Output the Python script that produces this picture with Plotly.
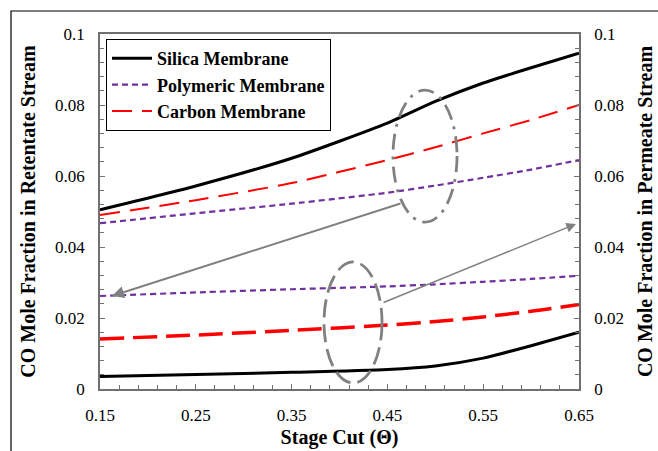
import plotly.graph_objects as go

# Stage cut values
theta = [0.15, 0.25, 0.35, 0.45, 0.50, 0.55, 0.60, 0.65]

# Retentate stream (left axis)
silica_ret = [0.0505, 0.0572, 0.0650, 0.0749, 0.0810, 0.0862, 0.0905, 0.0946]
polymeric_ret = [0.0467, 0.0495, 0.0522, 0.0553, 0.0573, 0.0595, 0.0618, 0.0645]
carbon_ret = [0.0490, 0.0532, 0.0580, 0.0645, 0.0681, 0.0720, 0.0758, 0.0800]

# Permeate stream (right axis)
silica_perm = [0.0035, 0.0041, 0.0047, 0.0055, 0.0065, 0.0087, 0.0122, 0.0160]
polymeric_perm = [0.0262, 0.0272, 0.0281, 0.0289, 0.0295, 0.0302, 0.0310, 0.0319]
carbon_perm = [0.0141, 0.0152, 0.0165, 0.0180, 0.0190, 0.0203, 0.0219, 0.0238]

x_ticks = [0.15, 0.25, 0.35, 0.45, 0.55, 0.65]
x_ticktext = ["0.15", "0.25", "0.35", "0.45", "0.55", "0.65"]
y_ticks = [0, 0.02, 0.04, 0.06, 0.08, 0.1]
y_ticktext = ["0", "0.02", "0.04", "0.06", "0.08", "0.1"]

BLACK = "#000000"
PURPLE = "#7030A0"
RED = "#FF0000"
GRAY = "#808080"
AXC = "#707070"
FONT = "Liberation Serif"

fig = go.Figure()

fig.add_trace(go.Scatter(x=theta, y=silica_ret, mode="lines", name="<b>Silica Membrane</b>",
                         line=dict(color=BLACK, width=3, shape="spline", smoothing=0.6)))
fig.add_trace(go.Scatter(x=theta, y=polymeric_ret, mode="lines", name="<b>Polymeric Membrane</b>",
                         line=dict(color=PURPLE, width=2.2, dash="6px,4px", shape="spline", smoothing=0.6)))
fig.add_trace(go.Scatter(x=theta, y=carbon_ret, mode="lines", name="<b>Carbon Membrane</b>",
                         line=dict(color=RED, width=2, dash="20px,10px", shape="spline", smoothing=0.6)))

fig.add_trace(go.Scatter(x=theta, y=silica_perm, mode="lines", showlegend=False, yaxis="y2",
                         line=dict(color=BLACK, width=3, shape="spline", smoothing=0.6)))
fig.add_trace(go.Scatter(x=theta, y=polymeric_perm, mode="lines", showlegend=False, yaxis="y2",
                         line=dict(color=PURPLE, width=2.2, dash="6px,4px", shape="spline", smoothing=0.6)))
fig.add_trace(go.Scatter(x=theta, y=carbon_perm, mode="lines", showlegend=False, yaxis="y2",
                         line=dict(color=RED, width=3.5, dash="24px,9px", shape="spline", smoothing=0.6)))

# Ellipses highlighting the two groups
fig.add_shape(type="circle", xref="x", yref="y", x0=0.4558, x1=0.5227, y0=0.0470, y1=0.0842,
              line=dict(color=GRAY, width=2.8, dash="16px,7px,3px,7px"))
fig.add_shape(type="circle", xref="x", yref="y", x0=0.3838, x1=0.4444, y0=0.0017, y1=0.0358,
              line=dict(color=GRAY, width=2.8, dash="18px,7px"))

# Outer frame
fig.add_shape(type="rect", xref="paper", yref="paper", x0=-0.1858, x1=1.2, y0=-0.25, y1=1.0648,
              line=dict(color=BLACK, width=1.2), layer="below")

# Arrows
fig.add_annotation(x=0.1625, y=0.0262, ax=0.4652, ay=0.0524, xref="x", yref="y", axref="x", ayref="y",
                   text="", showarrow=True, arrowhead=2, arrowsize=1.2, arrowwidth=2, arrowcolor=GRAY)
fig.add_annotation(x=0.6469, y=0.0465, ax=0.4444, ay=0.0242, xref="x", yref="y", axref="x", ayref="y",
                   text="", showarrow=True, arrowhead=2, arrowsize=1.3, arrowwidth=1.5, arrowcolor=GRAY)

axis_common = dict(showline=True, linecolor=AXC, linewidth=1.5, ticks="inside", ticklen=5,
                   tickcolor=AXC, tickwidth=1, showgrid=False, zeroline=False, automargin=False,
                   tickfont=dict(family=FONT, size=17, color=BLACK))

fig.update_layout(
    width=658, height=451,
    margin=dict(l=100, r=79, t=34, b=62),
    paper_bgcolor="white", plot_bgcolor="white",
    font=dict(family=FONT, color=BLACK),
    xaxis=dict(range=[0.15, 0.65], tickvals=x_ticks, ticktext=x_ticktext, mirror=True,
               minor=dict(dtick=0.02, tick0=0.15, ticks="inside", ticklen=4, tickcolor=AXC),
               ticklabelstandoff=10,
               title=dict(text="<b>Stage Cut (Θ)</b>", font=dict(family=FONT, size=20), standoff=6),
               **axis_common),
    yaxis=dict(range=[0, 0.1], tickvals=y_ticks, ticktext=y_ticktext,
               minor=dict(dtick=0.004, tick0=0, ticks="inside", ticklen=4, tickcolor=AXC),
               ticklabelstandoff=10,
               title=dict(text="<b>CO Mole Fraction in Retentate Stream</b>", font=dict(family=FONT, size=20), standoff=14),
               **axis_common),
    yaxis2=dict(range=[0, 0.1], tickvals=y_ticks, ticktext=y_ticktext, overlaying="y", side="right",
                minor=dict(dtick=0.004, tick0=0, ticks="inside", ticklen=4, tickcolor=AXC),
                ticklabelstandoff=10,
                title=dict(text="<b>CO Mole Fraction in Permeate Stream</b>", font=dict(family=FONT, size=20), standoff=15),
                **axis_common),
    legend=dict(x=0.0125, y=0.986, xanchor="left", yanchor="top", bgcolor="white",
                bordercolor=BLACK, borderwidth=1, font=dict(family=FONT, size=18, color=BLACK),
                tracegroupgap=0, itemwidth=40),
    showlegend=True,
)

fig.write_html("out.html", config={"displayModeBar": False},
               post_script="document.body.style.margin='0';document.body.style.overflow='hidden';")
